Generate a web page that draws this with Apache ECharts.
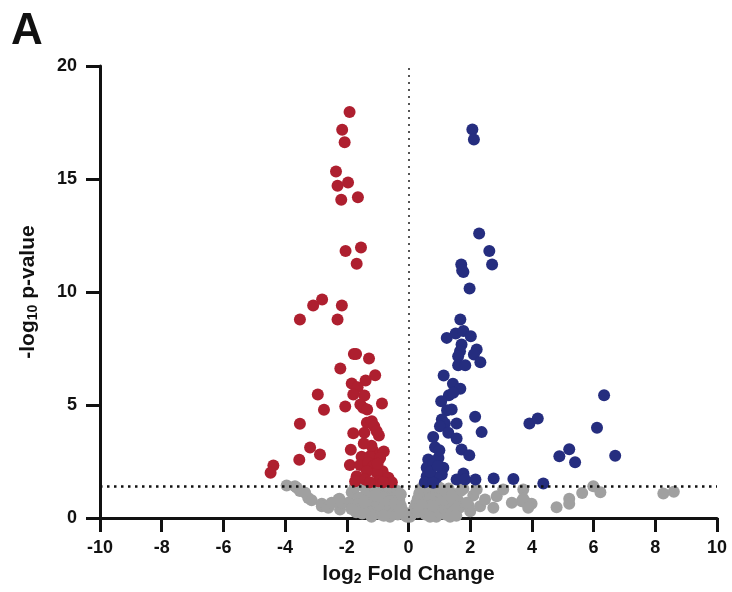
<!DOCTYPE html>
<html>
<head>
<meta charset="utf-8">
<script src="https://cdn.jsdelivr.net/npm/echarts@6/dist/echarts.min.js"></script>
<style>
  html, body { margin: 0; padding: 0; background: #fff; }
  #chart { width: 732px; height: 592px; }
</style>
</head>
<body>
<div id="chart"></div>
<script>
// axis ticks
var xTicks = [-10, -8, -6, -4, -2, 0, 2, 4, 6, 8, 10]
var yTicks = [0, 5, 10, 15, 20]
var pCut = 1.4

// downregulated (red)
var downPts = [
  [-1.91, 17.96], [-2.15, 17.18], [-2.07, 16.63], [-2.35, 15.33], [-2.30, 14.70],
  [-1.96, 14.85], [-2.18, 14.08], [-1.64, 14.19], [-1.54, 11.97], [-2.04, 11.81],
  [-1.68, 11.25], [-2.80, 9.67], [-3.09, 9.40], [-2.16, 9.40], [-3.52, 8.78],
  [-2.30, 8.78], [-1.77, 7.26], [-1.70, 7.26], [-1.28, 7.06], [-2.21, 6.61],
  [-1.08, 6.32], [-1.84, 5.95], [-1.39, 6.08], [-1.65, 5.79], [-2.94, 5.46],
  [-1.79, 5.46], [-1.43, 5.42], [-2.74, 4.79], [-2.05, 4.93], [-1.56, 5.02],
  [-0.86, 5.07], [-1.47, 4.88], [-1.34, 4.80], [-3.52, 4.17], [-1.35, 4.21],
  [-1.19, 4.28], [-1.11, 4.06], [-1.43, 3.77], [-1.79, 3.75], [-0.96, 3.65],
  [-1.03, 3.84], [-3.19, 3.12], [-1.87, 3.02], [-1.14, 2.96], [-0.80, 2.94],
  [-2.87, 2.81], [-1.52, 2.71], [-1.25, 2.73], [-0.92, 2.66], [-3.54, 2.58],
  [-1.90, 2.35], [-1.57, 2.34], [-1.30, 2.44], [-1.14, 2.29], [-4.38, 2.32],
  [-4.47, 2.00], [-0.84, 2.07], [-1.03, 2.00], [-1.35, 2.07], [-1.68, 1.85],
  [-1.73, 1.63], [-1.41, 1.70], [-0.98, 1.63], [-0.65, 1.78], [-0.54, 1.58],
  [-0.82, 1.58], [-1.25, 1.58], [-1.20, 3.20], [-1.00, 2.40], [-1.45, 3.30]
]

// upregulated (blue)
var upPts = [
  [2.07, 17.19], [2.12, 16.75], [2.29, 12.59], [2.62, 11.81], [2.71, 11.22],
  [1.71, 11.22], [1.78, 10.88], [1.74, 10.95], [1.98, 10.15], [1.68, 8.78],
  [1.24, 7.97], [1.53, 8.16], [1.78, 8.27], [2.02, 8.04], [1.72, 7.68],
  [2.21, 7.46], [1.67, 7.38], [1.61, 7.16], [2.12, 7.23], [2.33, 6.89],
  [1.61, 6.76], [1.84, 6.76], [1.14, 6.31], [1.44, 5.94], [1.68, 5.72],
  [1.31, 5.43], [1.45, 5.54], [1.06, 5.17], [1.25, 4.77], [1.40, 4.80],
  [1.08, 4.36], [1.18, 4.18], [2.16, 4.48], [1.56, 4.18], [1.02, 4.06],
  [1.29, 3.77], [2.37, 3.80], [0.80, 3.58], [1.56, 3.52], [0.86, 3.13],
  [1.72, 3.03], [1.97, 2.78], [0.64, 2.59], [0.97, 2.66], [0.59, 2.22],
  [0.80, 2.37], [1.13, 2.22], [1.08, 1.92], [0.59, 1.85], [0.91, 1.78],
  [0.53, 1.58], [0.80, 1.56], [1.78, 1.97], [1.56, 1.70], [1.83, 1.70],
  [2.17, 1.70], [2.76, 1.75], [3.40, 1.73], [4.37, 1.53], [3.92, 4.18],
  [4.19, 4.40], [6.34, 5.43], [6.11, 3.99], [5.21, 3.04], [4.89, 2.73],
  [5.40, 2.47], [6.70, 2.75], [0.70, 2.05], [1.00, 3.00], [0.95, 2.30]
]

// not significant (gray)
var nsPts = [
  [-3.95, 1.44], [-3.68, 1.41], [-3.62, 1.34], [-3.52, 1.19], [-3.35, 1.12],
  [-3.25, 0.89], [-3.14, 0.79], [-2.81, 0.63], [-2.81, 0.52], [-2.65, 0.52],
  [-2.60, 0.45], [-2.49, 0.67], [-2.27, 0.82], [-2.24, 0.85], [-2.22, 0.38],
  [-2.17, 0.67], [-1.95, 0.67], [-1.90, 0.67], [-1.84, 1.14], [-1.79, 1.14],
  [-1.46, 1.41], [-1.35, 1.41], [-1.30, 1.25], [-1.20, 1.10], [-1.10, 1.30],
  [-0.95, 1.20], [-0.85, 1.35], [-0.70, 1.25], [-0.60, 1.10], [-0.50, 1.30],
  [-0.40, 1.00], [-0.30, 0.80], [-0.25, 0.55], [-0.20, 0.35], [-0.15, 0.20],
  [-0.10, 0.10], [-0.05, 0.05], [-1.40, 1.00], [-1.30, 0.75], [-1.25, 0.50],
  [-1.15, 0.30], [-1.05, 0.85], [-1.00, 0.60], [-0.95, 0.35], [-0.90, 0.15],
  [-0.80, 0.90], [-0.75, 0.60], [-0.70, 0.30], [-0.60, 0.75], [-0.55, 0.45],
  [-0.50, 0.20], [-0.45, 0.65], [-0.40, 0.35], [-0.35, 0.15], [-0.30, 0.40],
  [-0.60, 0.05], [-1.50, 0.20], [-1.60, 0.90], [-1.55, 0.45], [-1.70, 0.25],
  [-1.75, 1.35], [-1.20, 0.05], [-0.80, 0.10], [-1.65, 0.60], [-1.45, 0.70],
  [-0.65, 1.40], [-0.35, 1.20], [-1.10, 1.00], [-0.25, 1.05], [-1.85, 0.40],
  [0.05, 0.05], [0.10, 0.15], [0.15, 0.30], [0.20, 0.45], [0.25, 0.65],
  [0.30, 0.85], [0.35, 1.10], [0.40, 1.30], [0.50, 1.00], [0.55, 0.70],
  [0.60, 0.40], [0.65, 1.20], [0.70, 0.90], [0.75, 0.20], [0.80, 0.60],
  [0.85, 1.30], [0.90, 1.00], [0.95, 0.35], [1.00, 0.75], [1.05, 1.10],
  [1.10, 0.50], [1.20, 0.15], [1.25, 0.90], [1.30, 1.30], [1.40, 0.60],
  [1.45, 0.30], [1.50, 1.05], [1.60, 0.80], [1.65, 0.45], [1.70, 1.20],
  [1.00, 1.35], [0.45, 0.55], [0.30, 0.25], [0.55, 0.15], [0.90, 0.05],
  [1.35, 0.05], [2.00, 0.30], [2.10, 1.00], [1.95, 0.55], [0.80, 0.52],
  [1.13, 0.82], [1.51, 0.38], [1.89, 0.67], [1.78, 1.29], [2.21, 1.26],
  [2.32, 0.52], [2.48, 0.82], [2.75, 0.45], [2.86, 0.96], [3.07, 1.26],
  [3.35, 0.67], [3.67, 0.74], [3.72, 1.26], [3.83, 0.67], [3.72, 0.85],
  [3.99, 0.63], [3.88, 0.45], [4.80, 0.48], [5.21, 0.85], [5.21, 0.63],
  [5.63, 1.11], [5.99, 1.41], [6.22, 1.14], [8.26, 1.08], [8.60, 1.16],
  [0.55, 1.35], [1.20, 1.20], [1.40, 0.95], [0.70, 0.05], [1.55, 0.10]
]

var FONT = '"Liberation Sans", Arial, sans-serif'

var chart = echarts.init(document.getElementById('chart'), null, { renderer: 'canvas' })

chart.setOption({
  animation: false,
  backgroundColor: '#fff',
  graphic: [{
    type: 'text',
    left: 11,
    top: 10,
    style: { text: 'A', font: 'bold 44px ' + FONT, fill: '#111' }
  }],
  grid: { left: 100, right: 15, top: 66, bottom: 74 },
  xAxis: {
    type: 'value',
    min: xTicks[0],
    max: xTicks[xTicks.length - 1],
    interval: 2,
    name: '{a|log}{b|2}{a| Fold Change}',
    nameLocation: 'middle',
    nameGap: 44,
    nameTextStyle: {
      rich: {
        a: { fontFamily: FONT, fontSize: 21, fontWeight: 'bold', color: '#111', lineHeight: 24 },
        b: { fontFamily: FONT, fontSize: 14, fontWeight: 'bold', color: '#111', lineHeight: 24, verticalAlign: 'bottom', padding: [8, 0, 0, 0] }
      }
    },
    axisLine: { onZero: false, lineStyle: { color: '#111', width: 3 } },
    axisTick: { length: 14, lineStyle: { color: '#111', width: 3 } },
    axisLabel: { margin: 21, fontFamily: FONT, fontSize: 18, fontWeight: 'bold', color: '#111' },
    splitLine: { show: false }
  },
  yAxis: {
    type: 'value',
    min: yTicks[0],
    max: yTicks[yTicks.length - 1],
    interval: 5,
    name: '{a|-log}{b|10}{a| p-value}',
    nameLocation: 'middle',
    nameRotate: 90,
    nameGap: 60,
    nameTextStyle: {
      rich: {
        a: { fontFamily: FONT, fontSize: 21, fontWeight: 'bold', color: '#111', lineHeight: 24 },
        b: { fontFamily: FONT, fontSize: 14, fontWeight: 'bold', color: '#111', lineHeight: 24, verticalAlign: 'bottom', padding: [8, 0, 0, 0] }
      }
    },
    axisLine: { show: true, onZero: false, lineStyle: { color: '#111', width: 3 } },
    axisTick: { show: true, length: 14, lineStyle: { color: '#111', width: 3 } },
    axisLabel: { margin: 23, fontFamily: FONT, fontSize: 18, fontWeight: 'bold', color: '#111' },
    splitLine: { show: false }
  },
  series: [
    {
      name: 'ns',
      type: 'scatter',
      symbolSize: 12,
      itemStyle: { color: '#a0a0a0', opacity: 1 },
      data: nsPts,
      z: 2
    },
    {
      name: 'down',
      type: 'scatter',
      symbolSize: 12,
      itemStyle: { color: '#ae1f2f', opacity: 1 },
      data: downPts,
      z: 3
    },
    {
      name: 'up',
      type: 'scatter',
      symbolSize: 12,
      itemStyle: { color: '#252d7f', opacity: 1 },
      data: upPts,
      z: 3
    },
    {
      name: 'cutoffs',
      type: 'scatter',
      data: [],
      z: 4,
      markLine: {
        silent: true,
        symbol: 'none',
        label: { show: false },
        data: [
          { yAxis: pCut, lineStyle: { color: '#111', width: 2.5, type: [2.5, 4.5] } },
          { xAxis: 0, lineStyle: { color: '#555', width: 2, type: [2, 5] } }
        ]
      }
    }
  ]
})
</script>
</body>
</html>
